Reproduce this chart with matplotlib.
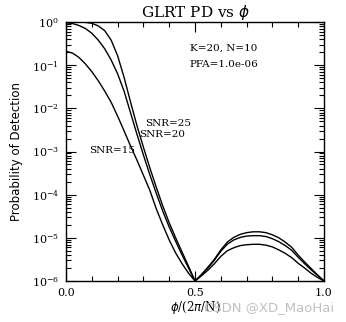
import numpy as np
import matplotlib.pyplot as plt
from matplotlib.ticker import FixedLocator, LogLocator, NullFormatter

# phi/(2pi/N) grid
phi = [0.0, 0.025, 0.05, 0.075, 0.1, 0.125, 0.15, 0.175, 0.2, 0.225,
       0.25, 0.275, 0.3, 0.325, 0.35, 0.375, 0.4, 0.425, 0.45, 0.475,
       0.5, 0.525, 0.55, 0.575, 0.6, 0.625, 0.65, 0.675, 0.7, 0.725,
       0.75, 0.775, 0.8, 0.825, 0.85, 0.875, 0.9, 0.925, 0.95, 0.975, 1.0]

# log10(PD)
log_pd_snr25 = [0.0, 0.0, -0.002, -0.008, -0.03, -0.09, -0.2, -0.42, -0.78, -1.28,
                -1.85, -2.4, -2.9, -3.38, -3.83, -4.26, -4.65, -5.0, -5.33, -5.66,
                -6.0, -5.85, -5.68, -5.5, -5.28, -5.1, -4.99, -4.92, -4.88, -4.86,
                -4.86, -4.88, -4.93, -5.0, -5.1, -5.22, -5.4, -5.56, -5.71, -5.86, -6.0]
log_pd_snr20 = [-0.02, -0.035, -0.08, -0.15, -0.26, -0.42, -0.62, -0.88, -1.2, -1.6,
                -2.1, -2.6, -3.08, -3.54, -3.97, -4.38, -4.75, -5.08, -5.4, -5.7,
                -6.0, -5.86, -5.7, -5.52, -5.31, -5.15, -5.05, -4.99, -4.96, -4.95,
                -4.95, -4.97, -5.02, -5.09, -5.18, -5.29, -5.45, -5.6, -5.74, -5.87, -6.0]
log_pd_snr15 = [-0.68, -0.72, -0.82, -0.97, -1.15, -1.36, -1.6, -1.86, -2.18, -2.52,
                -2.87, -3.2, -3.55, -3.9, -4.33, -4.7, -5.05, -5.35, -5.6, -5.82,
                -6.0, -5.88, -5.75, -5.6, -5.43, -5.3, -5.23, -5.18, -5.16, -5.15,
                -5.15, -5.17, -5.21, -5.28, -5.36, -5.46, -5.59, -5.7, -5.82, -5.92, -6.0]

series = [log_pd_snr25, log_pd_snr20, log_pd_snr15]

fig = plt.figure(figsize=(3.46, 3.22), dpi=100)
ax = fig.add_axes([66 / 346, 1 - 281 / 322, 258 / 346, 259 / 322])

for lp in series:
    ax.plot(phi, 10.0 ** np.array(lp), color='black', linewidth=1.0)

ax.set_yscale('log')
ax.set_xlim(0, 1)
ax.set_ylim(1e-6, 1)

serif = 'DejaVu Serif'
ax.xaxis.set_major_locator(FixedLocator([0.0, 0.5, 1.0]))
ax.xaxis.set_minor_locator(FixedLocator([0.1, 0.2, 0.3, 0.4, 0.6, 0.7, 0.8, 0.9]))
ax.set_xticklabels(['0.0', '0.5', '1.0'], family=serif, fontsize=8)
ax.yaxis.set_major_locator(LogLocator(base=10, numticks=10))
ax.yaxis.set_minor_locator(LogLocator(base=10, subs=np.arange(2, 10), numticks=20))
ax.yaxis.set_minor_formatter(NullFormatter())
for lbl in ax.get_yticklabels():
    lbl.set_family(serif)
    lbl.set_fontsize(8)

ax.tick_params(which='both', direction='in', top=True, right=True, width=0.8)
ax.tick_params(which='major', length=7, pad=5)
ax.tick_params(which='minor', length=3.5)
for s in ax.spines.values():
    s.set_linewidth(1.0)

ax.set_title('GLRT PD vs $\\phi$', family=serif, fontsize=11, pad=3)
ax.set_xlabel('$\\phi$/(2$\\pi$/N)', family=serif, fontsize=8.5, labelpad=1)
ax.set_ylabel('Probability of Detection', fontsize=8.5, labelpad=6)

ax.text(0.48, 0.89, 'K=20, N=10', transform=ax.transAxes, family=serif, fontsize=7.5)
ax.text(0.48, 0.828, 'PFA=1.0e-06', transform=ax.transAxes, family=serif, fontsize=7.5)
ax.text(0.305, 0.60, 'SNR=25', transform=ax.transAxes, family=serif, fontsize=7.5)
ax.text(0.285, 0.555, 'SNR=20', transform=ax.transAxes, family=serif, fontsize=7.5)
ax.text(0.09, 0.495, 'SNR=15', transform=ax.transAxes, family=serif, fontsize=7.5)

# watermark of the source image
fig.text(0.59, 0.046, 'CSDN @XD_MaoHai', color='#c0c0c0', fontsize=9.5, va='center')

fig.savefig('out.png', dpi=100)
